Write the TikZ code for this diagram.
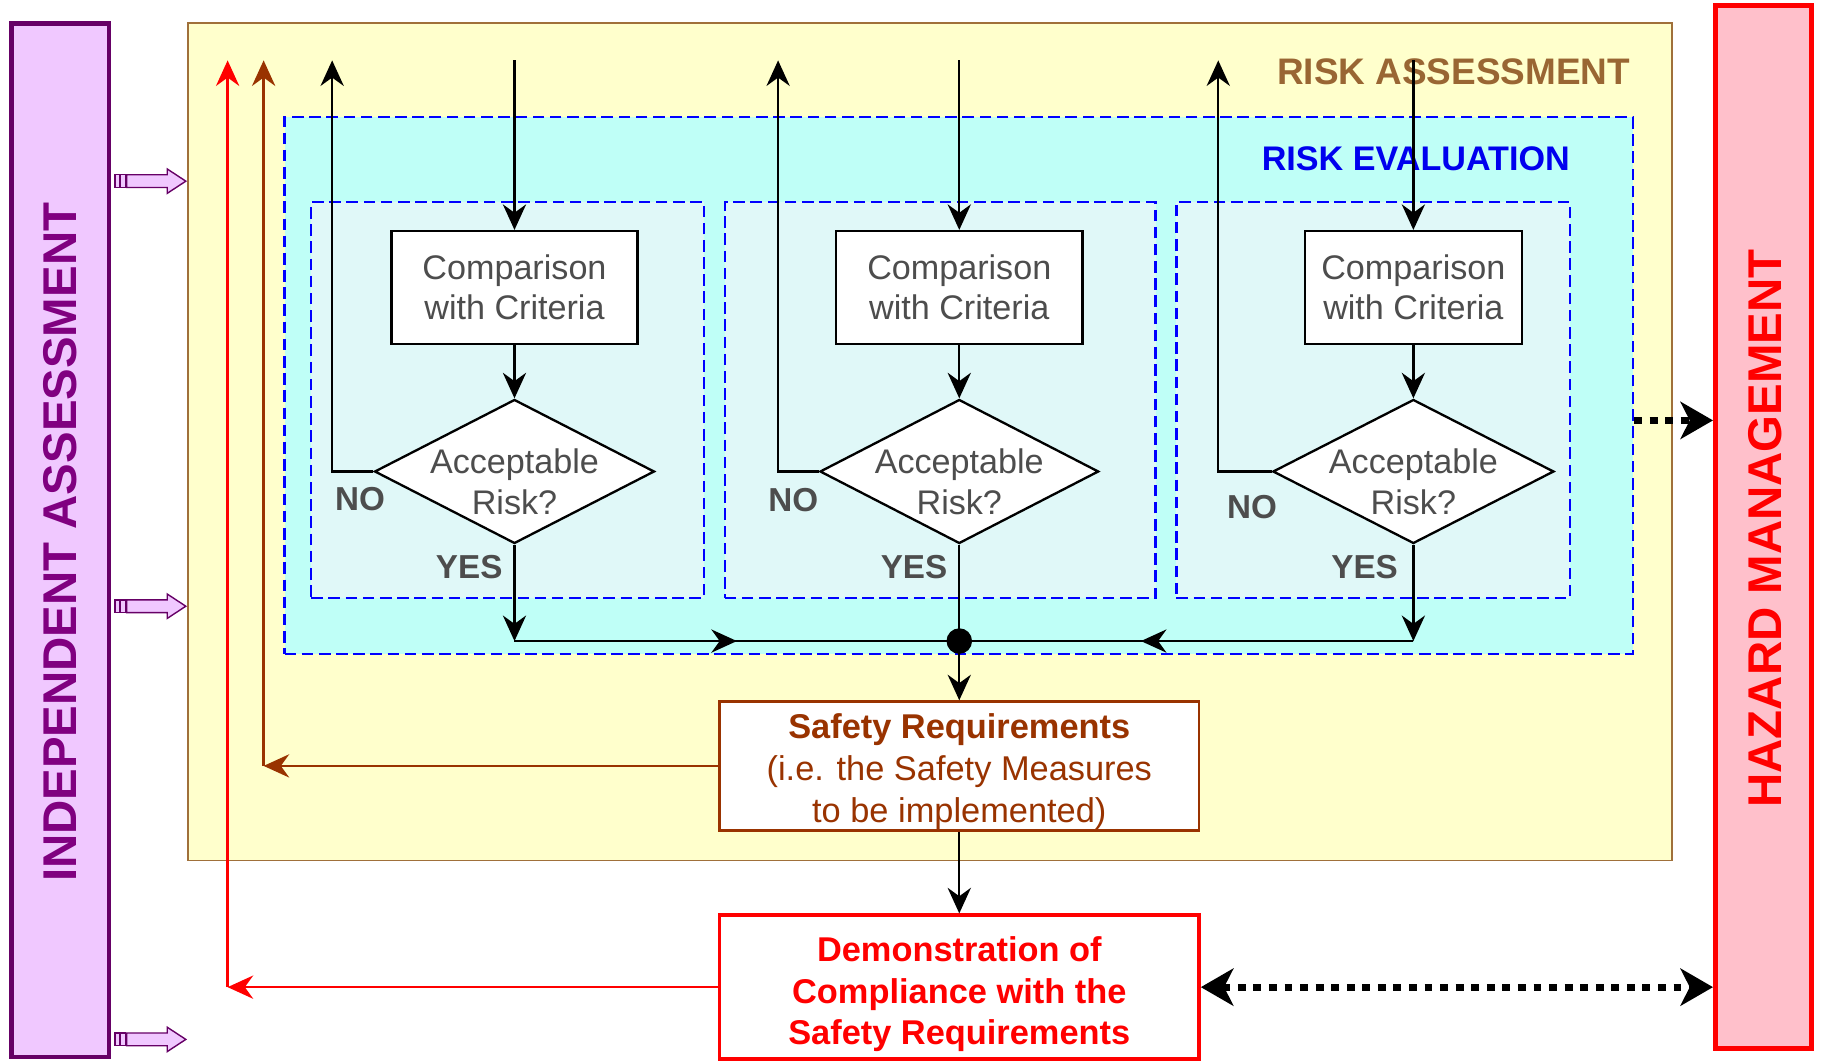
\documentclass[tikz,border=0pt]{standalone}
\usepackage{fontspec}
\setmainfont{Liberation Sans}
\usetikzlibrary{arrows.meta,shapes.geometric,calc}

\definecolor{txtgray}{HTML}{4D4D4D}
\definecolor{rabrown}{HTML}{996633}
\definecolor{raborder}{HTML}{A0703A}
\definecolor{rafill}{HTML}{FFFFCC}
\definecolor{refill}{HTML}{BFFFF7}
\definecolor{stepfill}{HTML}{E0F8F8}
\definecolor{reblue}{HTML}{0000EE}
\definecolor{dashblue}{HTML}{0000FF}
\definecolor{srbrown}{HTML}{993300}
\definecolor{iaborder}{HTML}{660066}
\definecolor{iafill}{HTML}{F0C8FF}
\definecolor{iatext}{HTML}{800080}
\definecolor{hmfill}{HTML}{FFC0CB}
\definecolor{hmred}{HTML}{FF0000}

\begin{document}
\begin{tikzpicture}[x=0.5pt,y=-0.5pt,
  >={Stealth[length=11pt,width=10pt,inset=3.6pt]},
  panel/.style={rectangle, inner sep=0pt, anchor=center},
  evalbox/.style={panel, draw=dashblue, line width=1pt, dash pattern=on 5pt off 2.4pt},
  cmpbox/.style={rectangle, draw=black, fill=white, line width=1pt, minimum height=48.5pt,
     text=txtgray, align=center, font=\fontsize{14.7}{17.5}\selectfont},
  decide/.style={diamond, draw=black, fill=white, line width=1pt, inner sep=0pt, minimum height=62pt},
  lbl/.style={text=txtgray, align=center, font=\fontsize{14.7}{17.5}\selectfont},
  yesno/.style={text=txtgray, font=\bfseries\fontsize{14.3}{17}\selectfont},
  sidetitle/.style={rotate=90, font=\bfseries\fontsize{20.4}{24}\selectfont},
  flow/.style={->, draw=black, line width=1pt},
  plain/.style={draw=black, line width=1pt},
  srflow/.style={->, draw=srbrown, line width=1pt},
  redflow/.style={->, draw=hmred, line width=1pt},
  dotflow/.style={line width=3.1pt, dash pattern=on 3.4pt off 3.3pt},
  bigtip/.tip={Stealth[length=14pt,width=16pt,inset=4pt]},
  iaarrow/.style={draw=iaborder, fill=iafill, line width=0.6pt},
]
\useasboundingbox (0,0) rectangle (1568,913);

% ---- outer frames ----
\node[panel, draw=raborder, fill=rafill, line width=0.8pt,
      minimum width=639pt, minimum height=360.5pt] (RA) at (801,380.5) {};
\node[panel, draw=iaborder, fill=iafill, line width=2pt,
      minimum width=42pt, minimum height=445pt] (IA) at (52,465) {};
\node[panel, draw=hmred, fill=hmfill, line width=2pt,
      minimum width=41.5pt, minimum height=449pt] (HM) at (1518.5,454) {};
\node[sidetitle, text=iatext] (IAt) at (52,467) {INDEPENDENT ASSESSMENT};
\node[sidetitle, text=hmred] (HMt) at (1520,455) {HAZARD MANAGEMENT};

% ---- risk evaluation area ----
\node[evalbox, fill=refill, minimum width=580.5pt, minimum height=231pt] (RE) at (825.5,332) {};
\node[evalbox, fill=stepfill, minimum width=169pt, minimum height=170.5pt] (s1) at (437,344.5) {};
\node[evalbox, fill=stepfill, minimum width=185.5pt, minimum height=170.5pt] (s2) at (809.5,344.5) {};
\node[evalbox, fill=stepfill, minimum width=169.5pt, minimum height=170.5pt] (s3) at (1182.5,344.5) {};

\node[anchor=east, inner sep=0pt, text=rabrown, font=\bfseries\fontsize{15.9}{19}\selectfont] (RAt) at (1404,62) {RISK ASSESSMENT};
\node[anchor=east, inner sep=0pt, text=reblue, font=\bfseries\fontsize{14.7}{17}\selectfont] (REt) at (1352,137) {RISK EVALUATION};

% ---- comparison steps ----
\node[cmpbox, minimum width=106pt] (c1) at (443,247.5) {Comparison\\with Criteria};
\node[cmpbox, minimum width=106pt] (c2) at (826,247.5) {Comparison\\with Criteria};
\node[cmpbox, minimum width=93.5pt] (c3) at (1217,247.5) {Comparison\\with Criteria};

\node[decide, minimum width=120.5pt] (d1) at (443,406) {};
\node[decide, minimum width=120pt] (d2) at (826,406) {};
\node[decide, minimum width=121pt] (d3) at (1217,406) {};
\foreach \k in {1,2,3}{
  \node[lbl] (d\k t) at ($(d\k)+(0,9)$) {Acceptable\\Risk?};
}

% ---- results ----
\node[rectangle, draw=srbrown, fill=white, line width=1pt, minimum width=206.5pt, minimum height=55.5pt]
      (SR) at (826,659.5) {};
\node[text=srbrown, align=center, font=\fontsize{14.8}{18}\selectfont] (SRt) at (826,664.5)
      {\textbf{Safety Requirements}\\(i.e. the Safety Measures\\to be implemented)};
\node[rectangle, draw=hmred, fill=white, line width=1.5pt, minimum width=206.5pt, minimum height=62pt]
      (DC) at (826,850) {};
\node[text=hmred, align=center, font=\bfseries\fontsize{14.8}{18}\selectfont] (DCt) at (826,856)
      {Demonstration of\\Compliance with the\\Safety Requirements};

% ---- free ends of connectors ----
\coordinate (top) at (0,52);
\coordinate (bus) at (0,552);
\foreach \k in {1,2,3}{
  \coordinate (in\k) at (c\k.north |- top);
  \coordinate (yes\k) at (d\k.south |- bus);
}
\coordinate (no1) at (286,52);
\coordinate (no2) at (670,52);
\coordinate (no3) at (1049,52);
\coordinate (srturn) at (227,0 |- SR.west);
\coordinate (dcturn) at (196,0 |- DC.west);
\coordinate (reout) at (RE.east |- 0,362);

% ---- connectors ----
\foreach \k in {1,2,3}{
  \draw[flow] (in\k) -- (c\k.north);
  \draw[flow] (c\k.south) -- (d\k.north);
  \draw[flow] (d\k.west) -| (no\k);
}
\draw[flow] (d1.south) -- (yes1);
\draw[flow] (d3.south) -- (yes3);
\draw[plain] (yes1) -- (yes2);
\draw[plain] (yes3) -- (yes2);
\draw[flow] (yes1) -- ($(yes1)!0.5!(yes2)$);
\draw[flow] (yes3) -- ($(yes3)!0.6!(yes2)$);
\draw[flow] (d2.south) -- (SR.north);
\node[circle, fill=black, inner sep=0pt, minimum size=11pt] (hub) at (yes2) {};
\draw[flow] (SR.south) -- (DC.north);

\draw[srflow] (SR.west) -- (srturn);
\draw[srflow] (srturn) -- (srturn |- top);
\draw[redflow] (DC.west) -- (dcturn);
\draw[redflow] (dcturn) -- (dcturn |- top);

\draw[dotflow, -bigtip] (reout) -- (HM.west |- reout);
\draw[dotflow, bigtip-bigtip] (DC.east) -- (HM.west |- DC.east);

% ---- inputs to the assessment frame ----
\foreach \yy [count=\k] in {156,522,895}{
  \coordinate (ia\k) at (IA.east |- 0,\yy);
  \begin{scope}[shift={(ia\k)}]
    \draw[iaarrow] (13,-5.5) -- (48,-5.5) -- (48,-10.5) -- (64,0) -- (48,10.5) -- (48,5.5) -- (13,5.5) -- cycle;
    \draw[iaarrow] (3,-5.5) rectangle (7,5.5);
    \draw[iaarrow] (8,-5.5) rectangle (12,5.5);
  \end{scope}
}

% ---- decision labels ----
\node[yesno] (no1t) at (310,430) {NO};
\node[yesno] (no2t) at (683,431) {NO};
\node[yesno] (no3t) at (1078,437) {NO};
\node[yesno] (yes1t) at (404,488) {YES};
\node[yesno] (yes2t) at (787,488) {YES};
\node[yesno] (yes3t) at (1175,488) {YES};
\end{tikzpicture}
\end{document}
